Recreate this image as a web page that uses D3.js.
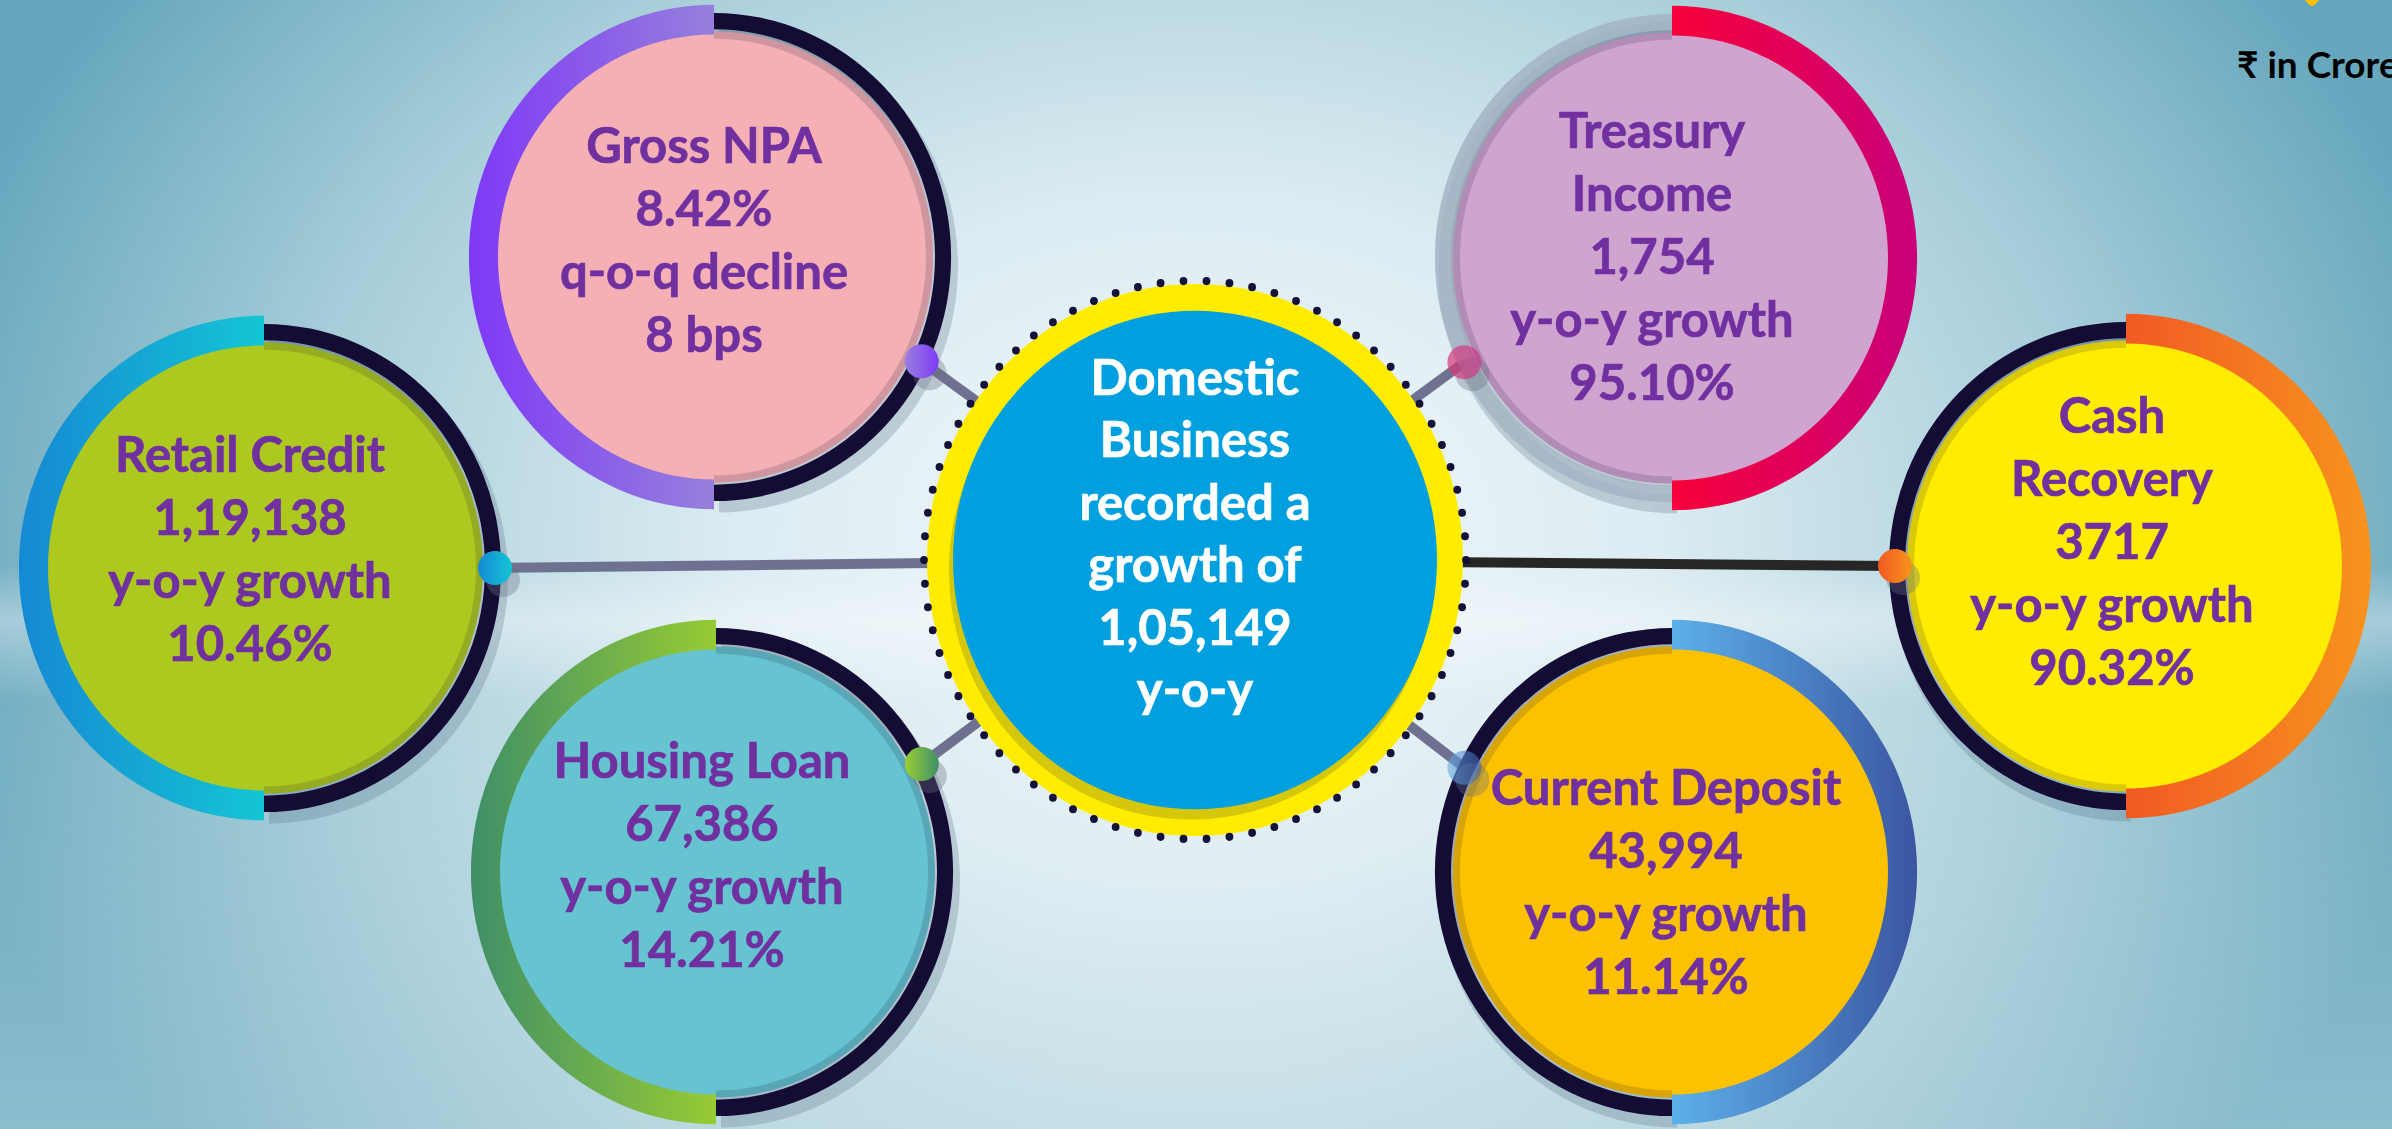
<!DOCTYPE html>
<html>
<head>
<meta charset="utf-8">
<script src="https://cdn.jsdelivr.net/npm/d3@7"></script>
<style>
html, body { margin: 0; padding: 0; overflow: hidden; }
text { font-family: Lato, "Noto Sans", sans-serif; font-weight: 700; }
</style>
</head>
<body>
<div id="chart"></div>
<script>
let width = 2392
let height = 1129

// values as printed (₹ in crore)
let metricNames = [["Gross NPA"], ["Retail Credit"], ["Housing Loan"], ["Treasury", "Income"], ["Cash", "Recovery"], ["Current Deposit"]]
let metricValues = ["8.42%", "1,19,138", "67,386", "1,754", "3717", "43,994"]
let changeLabels = ["q-o-q decline", "y-o-y growth", "y-o-y growth", "y-o-y growth", "y-o-y growth", "y-o-y growth"]
let changeValues = ["8 bps", "10.46%", "14.21%", "95.10%", "90.32%", "11.14%"]
let centreLines = ["Domestic", "Business", "recorded a", "growth of"]
let centreValue = "1,05,149"
let centreUnit = "y-o-y"
let unitLabel = "₹ in Crore"

// layout and look of each bubble (same order as metricNames)
let layout = [
    { cx: 714, cy: 257, side: "left", fill: "#f4b0b4", ring: ["#7f38f6", "#9580dc"], track: "#140c35", dot: ["#9a80de", "#7c3af6"], dotOp: 1, angle: 26, dx: -10, top: -111 },
    { cx: 264, cy: 568, side: "left", fill: "#adc91f", ring: ["#1589d4", "#14c5d3"], track: "#140c35", dot: ["#1589d4", "#14c5d3"], dotOp: 1, angle: 0, dx: -14, top: -113 },
    { cx: 716, cy: 872, side: "left", fill: "#66c3d0", ring: ["#3f8f67", "#97cb33"], track: "#140c35", dot: ["#9acd33", "#3f9068"], dotOp: 1, angle: -27, dx: -14, top: -111 },
    { cx: 1672, cy: 258, side: "right", fill: "#cfa5d0", ring: ["#f8003a", "#c8007a"], track: "#a3b4c4", dot: ["#d8387a", "#c83a8a"], dotOp: 0.7, angle: 154, dx: -20, top: -127 },
    { cx: 2126, cy: 566, side: "right", fill: "#ffec00", ring: ["#f15a24", "#f7941d"], track: "#140c35", dot: ["#f15a24", "#f7941d"], dotOp: 1, angle: 180, dx: -14, top: -150 },
    { cx: 1672, cy: 872, side: "right", fill: "#fcc200", ring: ["#5cb0e8", "#3a56a0"], track: "#140c35", dot: ["#6aaee6", "#3a60b0"], dotOp: 0.6, angle: 206, dx: -6, top: -84 }
]
let centre = { cx: 1195, cy: 560 }

let ky = 1.03          // picture is slightly taller than wide
let fillR = 216, ringOuter = 245, trackIn = 221, trackOut = 237, dotR = 17
let lineStep = 63

let nodes = metricNames.map(function(n, i) {
    return Object.assign({ lines: n.concat([metricValues[i], changeLabels[i], changeValues[i]]) }, layout[i])
})

let svg = d3.select("#chart")
    .append("svg")
    .attr("width", width)
    .attr("height", height)

let defs = svg.append("defs")

// background
let bg = defs.append("radialGradient").attr("id", "bg")
    .attr("gradientUnits", "userSpaceOnUse")
    .attr("cx", 1195).attr("cy", 540).attr("r", 1300)
    .attr("gradientTransform", "translate(1195,540) scale(1,0.75) translate(-1195,-540)")
bg.selectAll("stop")
    .data([[0, "#f3f9fc"], [0.35, "#dcecf2"], [0.7, "#a6cdd9"], [1, "#66a7bd"]])
    .enter().append("stop")
    .attr("offset", d => d[0]).attr("stop-color", d => d[1])

let band = defs.append("linearGradient").attr("id", "band").attr("x1", 0).attr("y1", 0).attr("x2", 0).attr("y2", 1)
band.selectAll("stop")
    .data([[0, 0], [0.5, 0], [0.55, 0.35], [0.62, 0], [1, 0.25]])
    .enter().append("stop")
    .attr("offset", d => d[0]).attr("stop-color", "#ffffff").attr("stop-opacity", d => d[1])

svg.append("rect").attr("width", width).attr("height", height).attr("fill", "url(#bg)")
svg.append("rect").attr("width", width).attr("height", height).attr("fill", "url(#band)")

// gradients for rings and dots
nodes.forEach(function(d, i) {
    let g = defs.append("linearGradient").attr("id", "ring" + i)
    g.append("stop").attr("offset", 0).attr("stop-color", d.ring[0])
    g.append("stop").attr("offset", 1).attr("stop-color", d.ring[1])
    let g2 = defs.append("linearGradient").attr("id", "dot" + i)
    g2.append("stop").attr("offset", 0).attr("stop-color", d.dot[0])
    g2.append("stop").attr("offset", 1).attr("stop-color", d.dot[1])
})

function dotPos(d) {
    let a = d.angle * Math.PI / 180
    let r = (trackIn + trackOut) / 2 + 2
    return [d.cx + r * Math.cos(a), d.cy + r * Math.sin(a) * ky]
}

// connectors
svg.selectAll(".link")
    .data(nodes)
    .enter()
    .append("line")
    .attr("class", "link")
    .attr("x1", d => dotPos(d)[0])
    .attr("y1", d => dotPos(d)[1])
    .attr("x2", centre.cx)
    .attr("y2", centre.cy)
    .attr("stroke", d => d.side == "right" && d.angle == 180 ? "#262626" : "#6e7290")
    .attr("stroke-width", 10)

let arc = d3.arc()
let half = { left: [Math.PI, 2 * Math.PI], right: [0, Math.PI] }
let other = { left: "right", right: "left" }

let bubble = svg.selectAll(".bubble")
    .data(nodes)
    .enter()
    .append("g")
    .attr("class", "bubble")
    .attr("transform", d => "translate(" + d.cx + "," + d.cy + ") scale(1," + ky + ")")

// soft shadow under the track
bubble.append("path")
    .attr("transform", "translate(5,9)")
    .attr("d", d => arc({ innerRadius: trackIn, outerRadius: trackOut + 2, startAngle: half[other[d.side]][0], endAngle: half[other[d.side]][1] }))
    .attr("fill", "#4a6478")
    .attr("opacity", 0.25)

bubble.append("circle")
    .attr("r", fillR + 3)
    .attr("fill", d => d.fill)

// darker band inside the track
bubble.append("path")
    .attr("d", d => arc({ innerRadius: fillR - 4, outerRadius: trackIn + 1, startAngle: half[other[d.side]][0], endAngle: half[other[d.side]][1] }))
    .attr("fill", "#1a1030")
    .attr("opacity", 0.16)

bubble.append("path")
    .attr("d", d => arc({ innerRadius: trackIn, outerRadius: trackOut, startAngle: half[other[d.side]][0], endAngle: half[other[d.side]][1] }))
    .attr("fill", d => d.track)
    .attr("opacity", d => d.track == "#140c35" ? 1 : 0.85)

bubble.append("path")
    .attr("d", d => arc({ innerRadius: fillR, outerRadius: ringOuter, startAngle: half[d.side][0], endAngle: half[d.side][1] }))
    .attr("fill", (d, i) => "url(#ring" + i + ")")

// connector dots
let dots = svg.selectAll(".dot")
    .data(nodes)
    .enter()
    .append("g")
    .attr("class", "dot")
    .attr("transform", d => "translate(" + dotPos(d)[0] + "," + dotPos(d)[1] + ")")
dots.append("circle")
    .attr("cx", 8).attr("cy", 12).attr("r", dotR)
    .attr("fill", "#6b6f80").attr("opacity", 0.35)
dots.append("circle")
    .attr("r", dotR)
    .attr("fill", (d, i) => "url(#dot" + i + ")")
    .attr("opacity", d => d.dotOp)

// centre bubble
let c = svg.append("g")
    .attr("transform", "translate(" + centre.cx + "," + centre.cy + ") scale(1," + ky + ")")
c.append("circle").attr("r", 268).attr("fill", "#ffec00")
c.append("circle").attr("cx", -4).attr("cy", 10).attr("r", 242).attr("fill", "#d4c70c")
c.append("circle").attr("r", 242).attr("fill", "#00a0e0")
c.selectAll(".bead")
    .data(d3.range(74))
    .enter()
    .append("circle")
    .attr("class", "bead")
    .attr("cx", i => 271 * Math.cos(i / 74 * 2 * Math.PI))
    .attr("cy", i => 271 * Math.sin(i / 74 * 2 * Math.PI))
    .attr("r", 3.9)
    .attr("fill", "#14103a")

// labels
let labels = svg.selectAll(".label")
    .data(nodes)
    .enter()
    .append("text")
    .attr("class", "label")
    .attr("text-anchor", "middle")
    .attr("font-size", 49)
    .attr("fill", "#7030a0")
    .attr("stroke", "#7030a0")
    .attr("stroke-width", 0.7)
labels.selectAll("tspan")
    .data(d => d.lines.map((t, j) => ({ t: t, x: d.cx + d.dx, y: d.cy + d.top + j * lineStep + 17 })))
    .enter()
    .append("tspan")
    .attr("x", d => d.x)
    .attr("y", d => d.y)
    .text(d => d.t)

svg.append("text")
    .attr("text-anchor", "middle")
    .attr("font-size", 49)
    .attr("fill", "#ffffff")
    .attr("stroke", "#ffffff")
    .attr("stroke-width", 0.7)
    .selectAll("tspan")
    .data(centreLines.concat([centreValue, centreUnit]))
    .enter()
    .append("tspan")
    .attr("x", centre.cx)
    .attr("y", (d, j) => centre.cy - 182 + j * 62.4 + 17)
    .text(d => d)

// unit note and corner mark
svg.append("rect")
    .attr("x", -15).attr("y", -15).attr("width", 30).attr("height", 30).attr("rx", 4)
    .attr("transform", "translate(2312,-14) rotate(45)")
    .attr("fill", "#ffc000")
svg.append("text")
    .attr("x", 2237).attr("y", 78)
    .attr("font-size", 37)
    .attr("fill", "#000000")
    .text(unitLabel)
</script>
</body>
</html>
